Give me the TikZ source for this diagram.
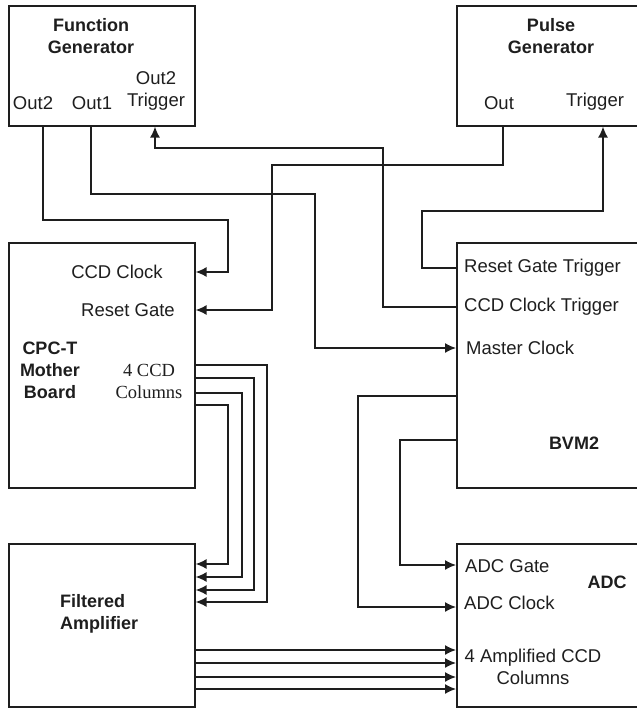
\documentclass[tikz,border=0pt]{standalone}
\usepackage{fontspec}
\setmainfont{Liberation Sans}
\newfontfamily\serifLS{Liberation Serif}
\usetikzlibrary{arrows.meta}
\definecolor{ink}{HTML}{1E1E1E}
\begin{document}
\begin{tikzpicture}[x=1bp,y=-1bp,
  box/.style={draw=ink, line width=1.6bp, rectangle, inner sep=0, anchor=north west},
  lbl/.style={inner sep=0, font=\fontsize{18.5bp}{22bp}\selectfont, text=ink, align=center},
  bl/.style={lbl, font=\fontsize{18bp}{22bp}\selectfont\bfseries},
  wire/.style={draw=ink, line width=1.4bp},
  arr/.style={wire, -{Latex[length=11bp,width=10bp]}}]
\useasboundingbox (0,0) rectangle (637,708);
\clip (0,0) rectangle (637,708);
% boxes
\node[box, minimum width=186bp, minimum height=120bp] (fg) at (8,5) {};
\node[box, minimum width=200bp, minimum height=120bp] (pg) at (456,5) {};
\node[box, minimum width=186bp, minimum height=245bp] (cpc) at (8,242) {};
\node[box, minimum width=200bp, minimum height=245bp] (bvm) at (456,242) {};
\node[box, minimum width=186bp, minimum height=163bp] (fa) at (8,543) {};
\node[box, minimum width=200bp, minimum height=163bp] (adc) at (456,543) {};
% labels
\node[bl] (fgt) at (91,36) {Function\\Generator};
\node[lbl] (fgo2) at (33,103) {Out2};
\node[lbl] (fgo1) at (92,103) {Out1};
\node[lbl] (fgtr) at (156,91) {Out2\\Trigger};
\node[bl] (pgt) at (551,36) {Pulse\\Generator};
\node[lbl] (pgo) at (499,103) {Out};
\node[lbl] (pgtr) at (595,102) {Trigger};
\node[lbl] (cclk) at (117,272) {CCD Clock};
\node[lbl] (rgate) at (128,310) {Reset Gate};
\node[bl] (cpct) at (50,370) {CPC-T\\Mother\\Board};
\node[lbl, font=\fontsize{18.5bp}{22bp}\selectfont\serifLS] (cols) at (149,381) {4 CCD\\Columns};
\node[lbl, anchor=west] (rgt) at (464,268) {Reset Gate Trigger};
\node[lbl, anchor=west] (cct) at (464,307) {CCD Clock Trigger};
\node[lbl, anchor=west] (mclk) at (466,348) {Master Clock};
\node[bl] (bvmt) at (574,443) {BVM2};
\node[lbl, anchor=west] (agate) at (465,566) {ADC Gate};
\node[lbl, anchor=west] (aclk) at (464,603) {ADC Clock};
\node[bl] (adct) at (607,582) {ADC};
\node[lbl] (acols) at (533,667) {4 Amplified CCD\\Columns};
\node[bl, align=left, anchor=west] (fat) at (60,614) {Filtered\\Amplifier};
% connectors
\draw[arr] (fg.south -| 43,0) |- (228,220) |- (cpc.east |- 0,272);
\draw[arr] (fg.south -| 91,0) |- (315,194) |- (bvm.west |- 0,348);
\draw[arr] (bvm.west |- 0,307) -| (383,148) -| (fg.south -| 155,0);
\draw[arr] (pg.south -| 503,0) |- (272,165) |- (cpc.east |- 0,310);
\draw[arr] (bvm.west |- 0,268) -| (422,211) -| (pg.south -| 603,0);
\draw[arr] (bvm.west |- 0,396) -| (358,607) -- (adc.west |- 0,607);
\draw[arr] (bvm.west |- 0,440) -| (400,565) -- (adc.west |- 0,565);
\draw[arr] (cpc.east |- 0,365) -| (267,602) -- (fa.east |- 0,602);
\draw[arr] (cpc.east |- 0,378) -| (254,590) -- (fa.east |- 0,590);
\draw[arr] (cpc.east |- 0,393) -| (242,577) -- (fa.east |- 0,577);
\draw[arr] (cpc.east |- 0,405) -| (228,564) -- (fa.east |- 0,564);
\draw[arr] (fa.east |- 0,650) -- (adc.west |- 0,650);
\draw[arr] (fa.east |- 0,663) -- (adc.west |- 0,663);
\draw[arr] (fa.east |- 0,677) -- (adc.west |- 0,677);
\draw[arr] (fa.east |- 0,689) -- (adc.west |- 0,689);
\end{tikzpicture}
\end{document}
